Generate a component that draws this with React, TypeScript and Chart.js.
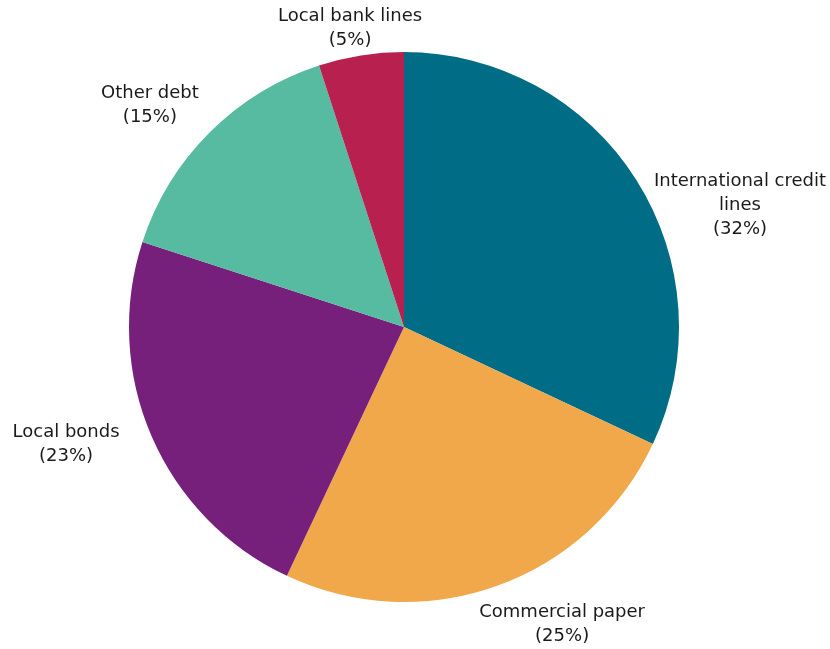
import React, { useEffect, useRef } from "react";
import { Chart, registerables } from "chart.js";

Chart.register(...registerables);

const categories = [
  "International credit lines",
  "Commercial paper",
  "Local bonds",
  "Other debt",
  "Local bank lines",
];
const shares = [32, 25, 23, 15, 5];
const labelLines = [
  ["International credit", "lines", "(32%)"],
  ["Commercial paper", "(25%)"],
  ["Local bonds", "(23%)"],
  ["Other debt", "(15%)"],
  ["Local bank lines", "(5%)"],
];
const colors = ["#006C86", "#F0A84A", "#76207C", "#56BBA0", "#B82050"];

// label centre positions relative to the pie centre, in units of the radius
const labelSpots = [
  [1.222, -0.444],
  [0.575, 1.08],
  [-1.229, 0.425],
  [-0.924, -0.807],
  [-0.196, -1.087],
];

const labelPlugin = {
  id: "pieLabels",
  afterDraw(chart: any) {
    const ctx = chart.ctx;
    const meta = chart.getDatasetMeta(0);
    ctx.save();
    ctx.font = "18px 'DejaVu Sans', sans-serif";
    ctx.fillStyle = "#1a1a1a";
    ctx.textAlign = "center";
    ctx.textBaseline = "middle";
    const lh = 24;
    meta.data.forEach((arc: any, i: number) => {
      const r = arc.outerRadius;
      const cx = arc.x + labelSpots[i][0] * r;
      const cy = arc.y + labelSpots[i][1] * r;
      const lines = labelLines[i];
      const top = cy - ((lines.length - 1) * lh) / 2;
      lines.forEach((t, k) => ctx.fillText(t, cx, top + k * lh));
    });
    ctx.restore();
  },
};

export default function App() {
  const ref = useRef<HTMLCanvasElement>(null);
  useEffect(() => {
    if (!ref.current) return;
    const chart = new Chart(ref.current, {
      type: "pie",
      data: {
        labels: categories,
        datasets: [
          {
            data: shares,
            backgroundColor: colors,
            borderWidth: 0,
          },
        ],
      },
      options: {
        animation: false,
        responsive: true,
        maintainAspectRatio: false,
        layout: { padding: { top: 52, bottom: 47, left: 100, right: 122 } },
        plugins: {
          legend: { display: false },
          tooltip: { enabled: false },
        },
      },
      plugins: [labelPlugin],
    });
    return () => chart.destroy();
  }, []);
  return (
    <div style={{ position: "fixed", left: 0, top: 0, width: 830, height: 649, background: "#fff" }}>
      <canvas ref={ref} />
    </div>
  );
}
